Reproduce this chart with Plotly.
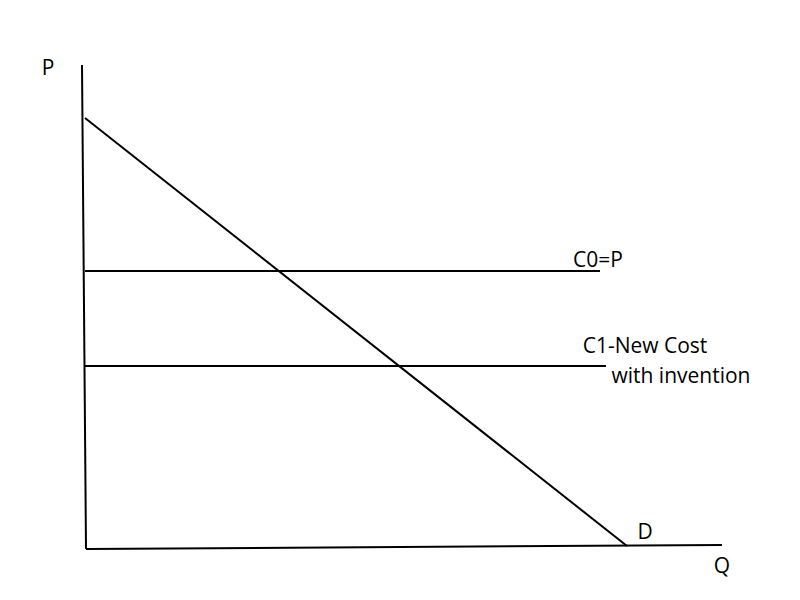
import plotly.graph_objects as go

# Axis lines (quantity Q, price P)
p_axis_q = [-4, 0]
p_axis_p = [484, 0]
q_axis_q = [0, 636]
q_axis_p = [0, 4]

# Demand curve
demand_q = [-1, 541]
demand_p = [431, 3]

# Cost lines
c0_q = [-1, 514]
c0_p = [278, 278]
c1_q = [-1, 520]
c1_p = [183, 183]

# Labels
label_text = ["P", "Q", "D", "C0=P", "C1-New Cost", "with invention"]
label_q = [-38, 636, 559, 512, 559, 595]
label_p = [479, -19, 15, 287, 201, 171]

fig = go.Figure()
line_style = dict(color="black", width=2)
for xs, ys in [(p_axis_q, p_axis_p), (q_axis_q, q_axis_p), (demand_q, demand_p),
               (c0_q, c0_p), (c1_q, c1_p)]:
    fig.add_trace(go.Scatter(x=xs, y=ys, mode="lines", line=line_style,
                             hoverinfo="skip", showlegend=False))

fig.add_trace(go.Scatter(x=label_q, y=label_p, mode="text", text=label_text,
                         textposition="middle center",
                         textfont=dict(family="Open Sans", size=21, color="black"),
                         showlegend=False, hoverinfo="skip"))

fig.update_layout(
    width=800, height=600,
    margin=dict(l=0, r=0, t=0, b=0),
    paper_bgcolor="white", plot_bgcolor="white",
    xaxis=dict(range=[-78, 722], visible=False),
    yaxis=dict(range=[-59, 541], visible=False),
)
fig.write_html("out.html")
